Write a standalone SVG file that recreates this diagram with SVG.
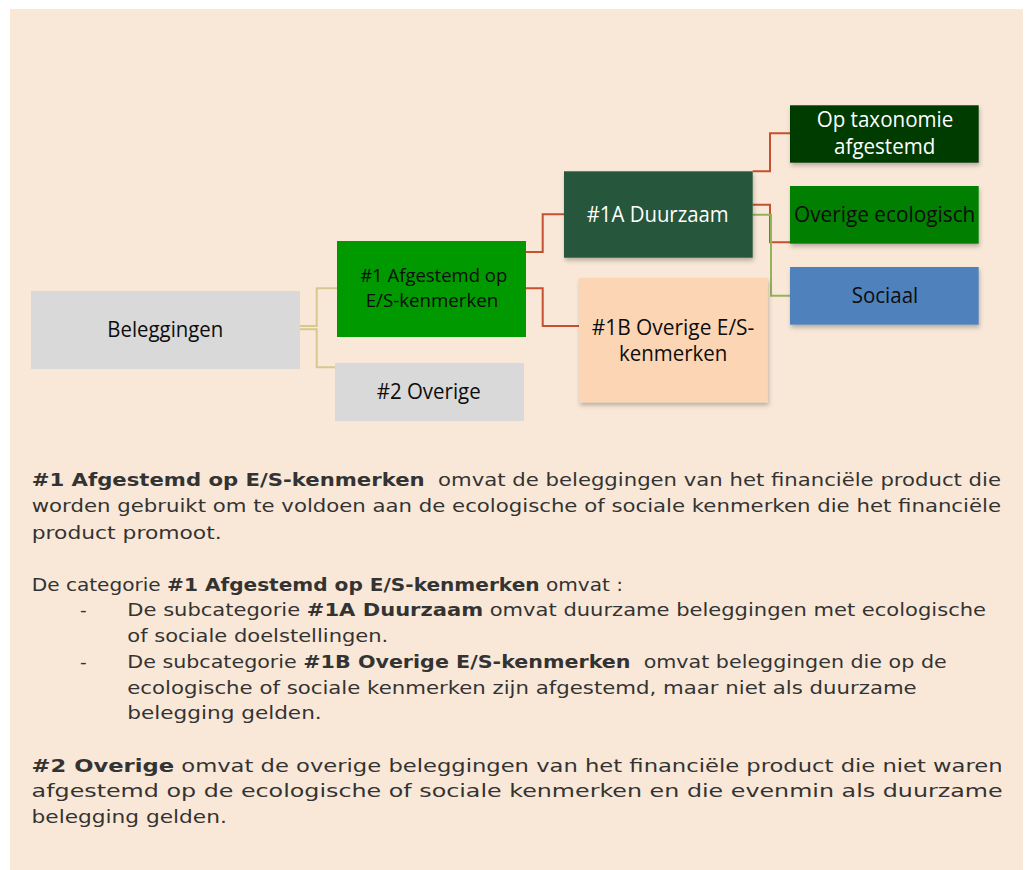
<svg xmlns="http://www.w3.org/2000/svg" width="1025" height="870" viewBox="0 0 1025 870">
<style>
.lbl{font-family:"Open Sans","Noto Sans","Liberation Sans",sans-serif;text-anchor:middle;}
.dk{fill:#0d0d0d;}
.wt{fill:#ffffff;}
.body{font-family:"DejaVu Sans","Liberation Sans",sans-serif;font-size:18.5px;fill:#333333;}
.b{font-weight:bold;}
.tan{fill:none;stroke:#d5c98f;stroke-width:2;}
.red{fill:none;stroke:#c4512f;stroke-width:2;}
.grn{fill:none;stroke:#93b35a;stroke-width:2;}
</style>
<defs>
<filter id="sh" x="-10%" y="-10%" width="125%" height="135%">
<feDropShadow dx="1" dy="3" stdDeviation="2" flood-color="#000000" flood-opacity="0.25"/>
</filter>
</defs>
<rect x="10" y="9" width="1013" height="861" fill="#f9e8d7"/>

<g id="connectors">
<polyline class="tan" points="300,326 316.7,326 316.7,288.3 337,288.3"/>
<polyline class="tan" points="300,329.3 316.7,329.3 316.7,367.3 335,367.3"/>
<polyline class="red" points="526,252 542.7,252 542.7,214.3 564,214.3"/>
<polyline class="red" points="526,288.3 542.7,288.3 542.7,326 579,326"/>
<polyline class="red" points="752.7,171.3 770,171.3 770,133.3 790,133.3"/>
<polyline class="red" points="752.7,204.7 770,204.7 770,242.3 790,242.3"/>
<polyline class="grn" points="752.7,214.7 771,214.7 771,295.7 790,295.7"/>
</g>

<g id="node-beleggingen">
<rect x="31" y="291" width="269" height="78" fill="#d9d9d9"/>
<text class="lbl dk" x="165.3" y="337" font-size="21" textLength="116" lengthAdjust="spacingAndGlyphs">Beleggingen</text>
</g>

<g id="node-1">
<rect x="337" y="241" width="189" height="96" fill="#009900"/>
<text class="lbl dk" x="433.7" y="282.3" font-size="18.5" textLength="147" lengthAdjust="spacingAndGlyphs">#1 Afgestemd op</text>
<text class="lbl dk" x="432" y="306.7" font-size="18.5" textLength="132.6" lengthAdjust="spacingAndGlyphs">E/S-kenmerken</text>
</g>

<g id="node-2">
<rect x="335" y="363" width="189" height="58" fill="#d9d9d9"/>
<text class="lbl dk" x="428.7" y="398.7" font-size="21" textLength="104" lengthAdjust="spacingAndGlyphs">#2 Overige</text>
</g>

<g id="node-1a">
<rect x="564" y="171.3" width="188.7" height="86.4" fill="#26573a" filter="url(#sh)"/>
<text class="lbl wt" x="657.7" y="222" font-size="21" textLength="142" lengthAdjust="spacingAndGlyphs">#1A Duurzaam</text>
</g>

<g id="node-1b">
<rect x="579" y="278" width="188.7" height="124.3" fill="#fcd5b4" filter="url(#sh)"/>
<text class="lbl dk" x="673" y="335" font-size="21" textLength="162.6" lengthAdjust="spacingAndGlyphs">#1B Overige E/S-</text>
<text class="lbl dk" x="673.2" y="361" font-size="21" textLength="108.3" lengthAdjust="spacingAndGlyphs">kenmerken</text>
</g>

<g id="node-taxonomie">
<rect x="790" y="105.3" width="188.7" height="57.4" fill="#003a00" filter="url(#sh)"/>
<text class="lbl wt" x="885" y="127.3" font-size="21" textLength="136.6" lengthAdjust="spacingAndGlyphs">Op taxonomie</text>
<text class="lbl wt" x="884.7" y="154" font-size="21" textLength="101.3" lengthAdjust="spacingAndGlyphs">afgestemd</text>
</g>

<g id="node-ecologisch">
<rect x="790" y="186" width="188.7" height="57.7" fill="#007f00" filter="url(#sh)"/>
<text class="lbl dk" x="884.7" y="222" font-size="21" textLength="181.3" lengthAdjust="spacingAndGlyphs">Overige ecologisch</text>
</g>

<g id="node-sociaal">
<rect x="790" y="267" width="188.7" height="57.7" fill="#4f81bd" filter="url(#sh)"/>
<text class="lbl dk" x="885" y="302.7" font-size="21" textLength="66.6" lengthAdjust="spacingAndGlyphs">Sociaal</text>
</g>

<g id="text-block">
<text class="body" xml:space="preserve" x="31.7" y="485.7" textLength="969.3" lengthAdjust="spacingAndGlyphs"><tspan class="b">#1 Afgestemd op E/S-kenmerken</tspan>  omvat de beleggingen van het financiële product die</text>
<text class="body" x="31.7" y="512.3" textLength="969.3" lengthAdjust="spacingAndGlyphs">worden gebruikt om te voldoen aan de ecologische of sociale kenmerken die het financiële</text>
<text class="body" x="31.7" y="539.3" textLength="190" lengthAdjust="spacingAndGlyphs">product promoot.</text>

<text class="body" x="31.7" y="590.7" textLength="591.3" lengthAdjust="spacingAndGlyphs">De categorie <tspan class="b">#1 Afgestemd op E/S-kenmerken</tspan> omvat :</text>
<text class="body" x="80" y="616">-</text>
<text class="body" x="127.3" y="616" textLength="858.7" lengthAdjust="spacingAndGlyphs">De subcategorie <tspan class="b">#1A Duurzaam</tspan> omvat duurzame beleggingen met ecologische</text>
<text class="body" x="127.3" y="642.3" textLength="261" lengthAdjust="spacingAndGlyphs">of sociale doelstellingen.</text>
<text class="body" x="80" y="668.3">-</text>
<text class="body" xml:space="preserve" x="127.3" y="668.3" textLength="819.4" lengthAdjust="spacingAndGlyphs">De subcategorie <tspan class="b">#1B Overige E/S-kenmerken</tspan>  omvat beleggingen die op de</text>
<text class="body" x="127.3" y="694.3" textLength="789.4" lengthAdjust="spacingAndGlyphs">ecologische of sociale kenmerken zijn afgestemd, maar niet als duurzame</text>
<text class="body" x="127.3" y="719.3" textLength="194.4" lengthAdjust="spacingAndGlyphs">belegging gelden.</text>

<text class="body" x="31.6" y="772.3" textLength="971" lengthAdjust="spacingAndGlyphs"><tspan class="b">#2 Overige</tspan> omvat de overige beleggingen van het financiële product die niet waren</text>
<text class="body" x="31.6" y="796.7" textLength="971" lengthAdjust="spacingAndGlyphs">afgestemd op de ecologische of sociale kenmerken en die evenmin als duurzame</text>
<text class="body" x="31.6" y="823" textLength="195.2" lengthAdjust="spacingAndGlyphs">belegging gelden.</text>
</g>
</svg>
